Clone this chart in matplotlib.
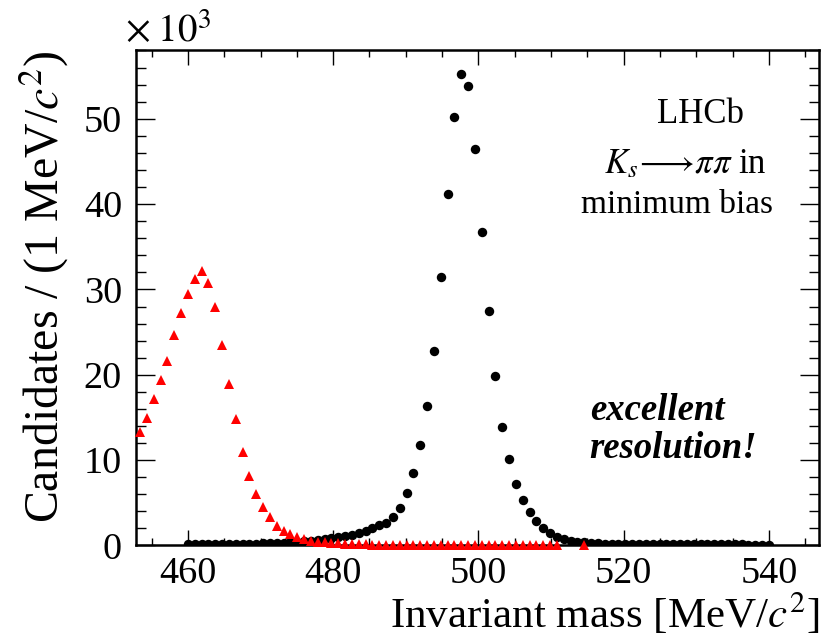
import numpy as np
import matplotlib
matplotlib.use("Agg")
import matplotlib.pyplot as plt
from matplotlib.ticker import MultipleLocator

plt.rcParams['font.family'] = ['Liberation Serif', 'DejaVu Serif']
plt.rcParams['mathtext.fontset'] = 'stix'

# Histogram binning shared by both samples
bin_width = 80.0 / 85.0
first_bin_mass = 460.0

# K_s -> pi pi candidates in minimum bias (thousands per bin), bins 0..85
signal_counts = [
    0.12, 0.12, 0.13, 0.13, 0.14, 0.15,
    0.16, 0.17, 0.18, 0.20, 0.22,
    0.24, 0.27, 0.30, 0.33, 0.37,
    0.42, 0.48, 0.55, 0.63, 0.72,
    0.83, 0.96, 1.10, 1.28, 1.50,
    1.75, 2.05, 2.35,
    2.65, 3.35, 4.41, 6.17, 8.48, 11.79, 16.30, 22.78, 31.49, 41.15,
    50.25, 55.25, 53.85, 46.46, 36.76, 27.43, 19.88, 13.87, 10.08, 7.22,
    5.35, 3.87, 2.88, 2.03,
    1.45, 1.05, 0.78, 0.58, 0.45, 0.36, 0.30, 0.26, 0.23, 0.21,
    0.20, 0.19, 0.18, 0.17, 0.17, 0.16, 0.16, 0.15,
    0.15, 0.14, 0.14, 0.14, 0.13, 0.13, 0.13, 0.12, 0.12, 0.12, 0.12,
    0.11, 0.11, 0.11, 0.11,
]

# Second (red) sample, starting at bin -7; empty bins are not drawn
control_first_bin = -7
control_counts = [
    13.3, 14.9, 17.2, 19.4, 21.6, 24.7, 27.3,
    29.5, 31.2, 32.2, 30.7, 27.9, 23.5, 18.9, 14.8, 11.0, 8.2,
    6.0, 4.5, 3.3, 2.3, 1.7, 1.3, 1.0, 0.77, 0.54,
    0.45, 0.38, 0.30, 0.25, 0.20, 0.16,
    0.13, 0.12, 0.11, 0.10, 0.09, 0.08, 0.08, 0.07, 0.07, 0.06,
    0.06, 0.05, 0.05, 0.05, 0.04, 0.04, 0.04, 0.04, 0.03, 0.03,
    0.03, 0.03, 0.03, 0.02, 0.02, 0.02, 0.02, 0.02, 0.02, 0.02,
    0.0, 0.0, 0.0,
    0.02,
]

x_ticks = [460, 480, 500, 520, 540]
y_ticks = [0, 10, 20, 30, 40, 50]

sig = np.array(signal_counts)
sig_mass = first_bin_mass + bin_width * np.arange(len(sig))
ctl = np.array(control_counts)
ctl_mass = first_bin_mass + bin_width * (control_first_bin + np.arange(len(ctl)))
filled = ctl > 0

fig = plt.figure(figsize=(8.25, 6.36), dpi=100)
ax = fig.add_axes([0.1648, 0.1423, 0.8279, 0.7783])

ax.plot(sig_mass, sig, 'o', color='black', ms=6.8, mew=0, zorder=3)
ax.plot(ctl_mass[filled], ctl[filled], '^', color='#ff0000', ms=6.8, mew=0,
        zorder=4, clip_on=False)

ax.set_xlim(452.85, 546.9)
ax.set_ylim(0, 58)
ax.set_xticks(x_ticks)
ax.set_yticks(y_ticks)
ax.xaxis.set_minor_locator(MultipleLocator(5))
ax.yaxis.set_minor_locator(MultipleLocator(2))

ax.tick_params(which='both', direction='in', top=True, right=True,
               width=1.0, labelsize=27.5)
ax.tick_params(axis='x', which='major', length=11, pad=8)
ax.tick_params(axis='x', which='minor', length=5)
ax.tick_params(axis='y', which='major', length=14, pad=10)
ax.tick_params(axis='y', which='minor', length=7)
for sp in ax.spines.values():
    sp.set_linewidth(1.8)

ax.set_xlabel('Invariant mass [MeV/$c^2$]', loc='right', fontsize=31,
              labelpad=0)
ax.set_ylabel('Candidates / (1 MeV/$c^2$)', loc='top', fontsize=34.5,
              labelpad=9)

fig.text(0.1515, 0.934, r'$\times\;10^{3}$', fontsize=28, ha='left',
         va='baseline')

ax.text(0.827, 0.854, 'LHCb', transform=ax.transAxes, fontsize=25,
        ha='center', va='baseline')
ax.text(0.924, 0.752, r'$K_s\!\longrightarrow\!\pi\pi$ in',
        transform=ax.transAxes, fontsize=25, ha='right', va='baseline')
ax.text(0.933, 0.672, 'minimum bias', transform=ax.transAxes, fontsize=24,
        ha='right', va='baseline')
ax.text(0.665, 0.254, 'excellent', transform=ax.transAxes, fontsize=26.5,
        fontweight='bold', fontstyle='italic', ha='left', va='baseline')
ax.text(0.663, 0.176, 'resolution!', transform=ax.transAxes, fontsize=26.5,
        fontweight='bold', fontstyle='italic', ha='left', va='baseline')

fig.savefig('out.png', dpi=100)
